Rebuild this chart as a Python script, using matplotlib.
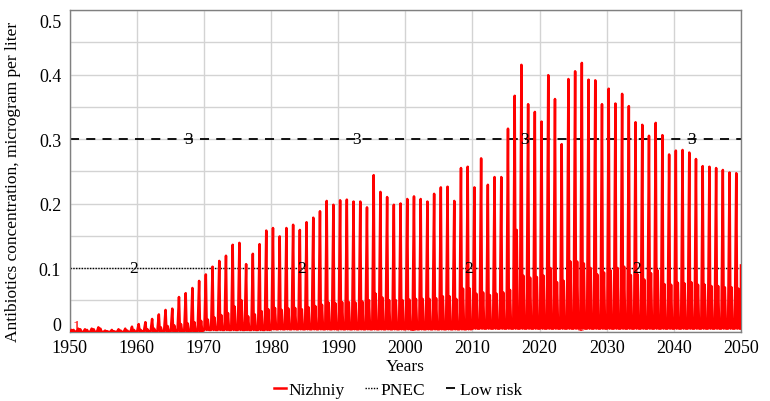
import numpy as np
import matplotlib
matplotlib.use("Agg")
import matplotlib.pyplot as plt
from matplotlib.transforms import offset_copy

plt.rcParams['font.family'] = ['Liberation Serif', 'DejaVu Serif']

# annual main peak values, 1950..2049
years = list(range(1950, 2050))
main_peak = [0.004, 0.006, 0.005, 0.006, 0.008, 0.003, 0.004, 0.005, 0.006, 0.009,
             0.013, 0.016, 0.021, 0.028, 0.035, 0.037, 0.055, 0.061, 0.069, 0.080,
             0.090, 0.102, 0.111, 0.119, 0.136, 0.139, 0.106, 0.122, 0.137, 0.158,
             0.162, 0.149, 0.162, 0.167, 0.159, 0.171, 0.178, 0.188, 0.204, 0.198,
             0.205, 0.206, 0.203, 0.203, 0.194, 0.244, 0.218, 0.210, 0.198, 0.200,
             0.207, 0.211, 0.207, 0.203, 0.215, 0.225, 0.226, 0.204, 0.255, 0.257,
             0.225, 0.270, 0.229, 0.241, 0.241, 0.316, 0.367, 0.415, 0.354, 0.342,
             0.327, 0.399, 0.362, 0.292, 0.393, 0.405, 0.418, 0.392, 0.391, 0.354,
             0.378, 0.355, 0.370, 0.351, 0.326, 0.322, 0.305, 0.325, 0.306, 0.276,
             0.282, 0.283, 0.279, 0.269, 0.258, 0.257, 0.255, 0.252, 0.248, 0.247]
# smaller second peak of each year
second_peak = [0.004, 0.005, 0.004, 0.005, 0.006, 0.002, 0.002, 0.003, 0.003, 0.004,
               0.004, 0.005, 0.006, 0.008, 0.010, 0.011, 0.013, 0.014, 0.016, 0.018,
               0.020, 0.023, 0.027, 0.030, 0.040, 0.050, 0.025, 0.028, 0.033, 0.036,
               0.038, 0.035, 0.037, 0.038, 0.036, 0.039, 0.041, 0.043, 0.046, 0.045,
               0.047, 0.047, 0.046, 0.048, 0.050, 0.060, 0.054, 0.050, 0.050, 0.050,
               0.051, 0.052, 0.052, 0.052, 0.053, 0.056, 0.056, 0.052, 0.068, 0.068,
               0.060, 0.062, 0.058, 0.060, 0.062, 0.066, 0.159, 0.088, 0.085, 0.086,
               0.088, 0.100, 0.078, 0.080, 0.110, 0.110, 0.107, 0.100, 0.090, 0.093,
               0.096, 0.100, 0.102, 0.089, 0.090, 0.082, 0.092, 0.096, 0.075, 0.074,
               0.077, 0.076, 0.078, 0.074, 0.074, 0.072, 0.072, 0.070, 0.070, 0.068]
# low level between peaks, per decade
trough_decade = [0.001, 0.002, 0.004, 0.005, 0.005, 0.005, 0.006, 0.006, 0.006, 0.006]
end_value = 0.104

pnec = 0.1
low_risk = 0.3

# build the seasonal series from the read values
t = []
v = []
for i, yr in enumerate(years):
    lo = trough_decade[i // 10]
    t += [yr + 0.08, yr + 0.30, yr + 0.44, yr + 0.60, yr + 0.76]
    v += [lo, main_peak[i], lo, second_peak[i], lo]
t += [2049.98, 2050]
v += [trough_decade[-1], end_value]
t = np.array(t)
v = np.array(v)

fig = plt.figure(figsize=(7.7, 4.02), dpi=100)
ax = fig.add_axes([0.0903, 0.1704, 0.8720, 0.8022])

ax.plot(t, v, color='#ff0000', lw=1.8, label='Nizhniy', zorder=3)
ax.axhline(pnec, color='black', lw=1.0, ls=(0, (1, 1)), label='PNEC', zorder=2)
ax.axhline(low_risk, color='black', lw=1.3, ls=(0, (5, 4)), label='Low risk', zorder=2)

# series numbers along the lines
for x in [1951.1, 1976.1, 2001.1, 2026.1]:
    ax.text(x, 0.009, '1', color='#ff0000', fontsize=11, ha='center', va='center', zorder=4)
for x in [1959.5, 1984.6, 2009.4, 2034.4]:
    ax.text(x, pnec, '2', fontsize=12.5, ha='center', va='center', zorder=4)
for x in [1967.7, 1992.7, 2017.7, 2042.7]:
    ax.text(x, low_risk, '3', fontsize=12.5, ha='center', va='center', zorder=4)

ax.set_xlim(1950, 2050)
ax.set_ylim(0, 0.5)
ax.set_xticks(range(1950, 2051, 10))
ax.set_yticks([0, 0.1, 0.2, 0.3, 0.4, 0.5])
ax.set_yticklabels(['0', '0.1', '0.2', '0.3', '0.4', '0.5'])
ax.set_yticks(np.arange(0.05, 0.5, 0.1), minor=True)
ax.grid(True, which='both', color='#d3d3d3', lw=1.0, zorder=0)
ax.tick_params(which='both', length=0, labelsize=13, pad=5)
ax.tick_params(axis='y', pad=6)
lbls = ax.get_yticklabels()
lbls[0].set_va('bottom')
lbls[0].set_transform(offset_copy(lbls[0].get_transform(), fig=fig, y=-2, units='dots'))
lbls[-1].set_va('top')
lbls[-1].set_transform(offset_copy(lbls[-1].get_transform(), fig=fig, y=-4, units='dots'))
for s in ax.spines.values():
    s.set_color('#808080')
    s.set_linewidth(1.0)

ax.set_xlabel('Years', fontsize=12.5, labelpad=1)
ax.set_ylabel('Antibiotics concentration, microgram per liter', fontsize=12.5)
ax.yaxis.set_label_coords(-0.072, 0.47)

fig.legend(loc='center', bbox_to_anchor=(0.517, 0.027), ncol=3, frameon=False,
           fontsize=12.5, handlelength=0.7, handletextpad=0.15, columnspacing=1.2)

fig.savefig('out.png', dpi=100)
